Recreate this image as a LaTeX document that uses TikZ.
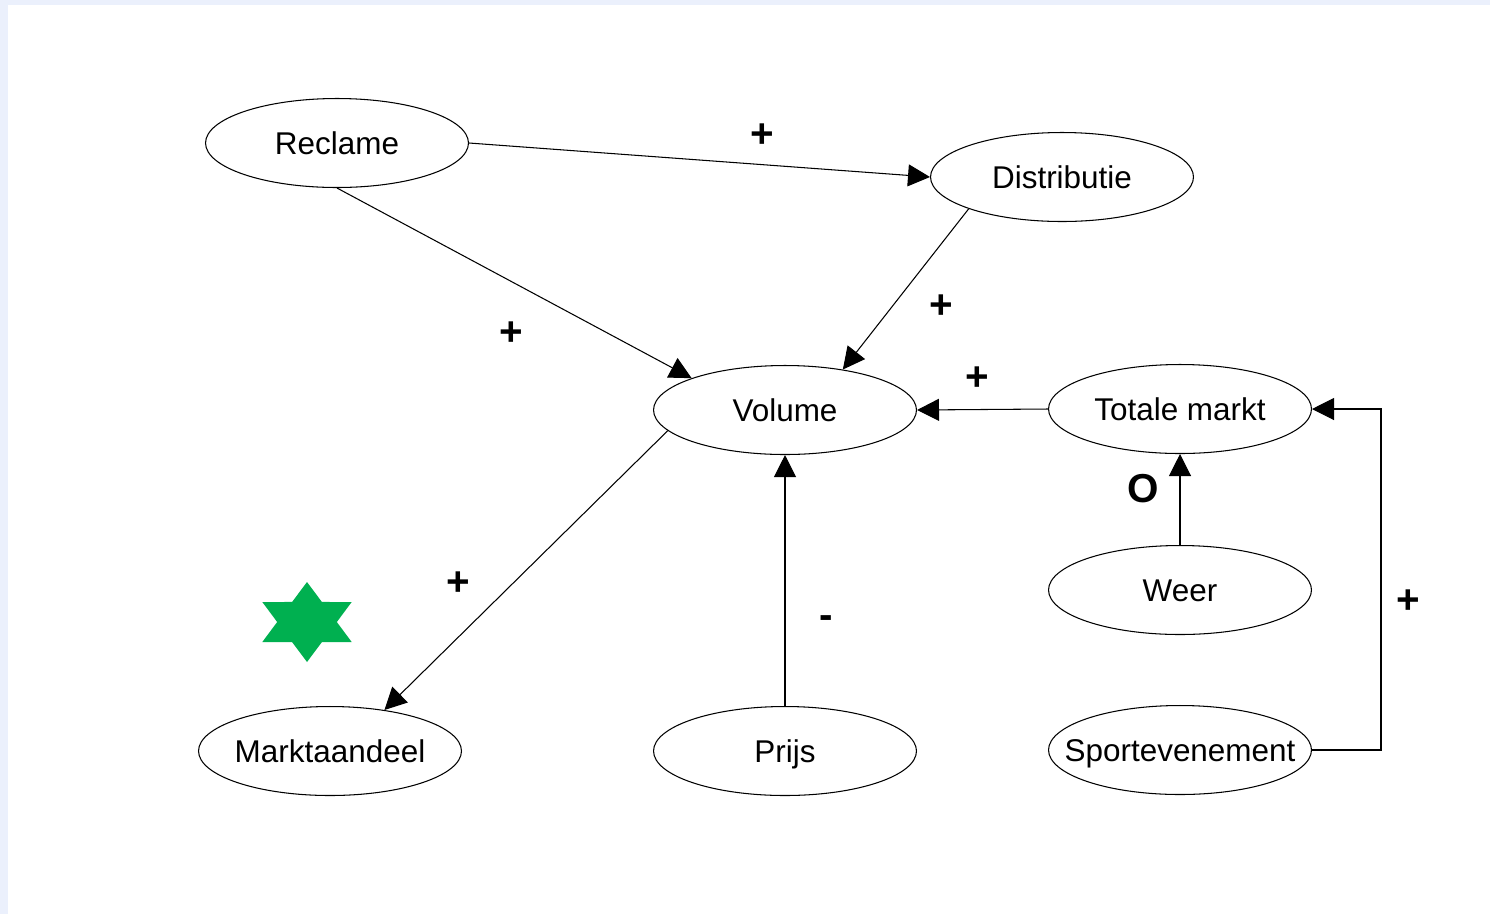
\documentclass[tikz,border=0pt]{standalone}
\usepackage{fontspec}
\setmainfont{Liberation Sans}
\usetikzlibrary{shapes.geometric,arrows.meta,positioning}
\definecolor{framebg}{HTML}{EBF0FC}
\definecolor{stargreen}{HTML}{00B050}
\tikzset{var node/.style={ellipse,draw,line width=0.6pt,inner sep=0pt,minimum width=5.26cm,minimum height=1.78cm,
                          text height=12.8pt,text depth=0pt,font=\fontsize{17.9}{21}\selectfont},
         sign label/.style={inner sep=0pt,font=\fontsize{23}{27}\selectfont\bfseries},
         link/.style={->,line width=0.6pt},
}
\newcommand{\vtxt}[1]{\makebox[0pt]{#1}}

\begin{document}
\begin{tikzpicture}[x=0.02cm,y=-0.02cm,
>={Triangle[length=4.4mm,width=4.4mm]}]
% background frame
\fill[framebg] (0,0) rectangle (1490,914);
\fill[white] (8,5) rectangle (1490,914);
\useasboundingbox (0,0) rectangle (1490,914);

\node[var node] (reclame) at (337,143) {\vtxt{Reclame}};
\node[var node] (distributie) at (1062,177) {\vtxt{Distributie}};
\node[var node] (volume) at (785,410) {\vtxt{Volume}};
\node[var node] (totale) at (1180,409) {\vtxt{Totale markt}};
\node[var node] (weer) at (1180,590) {\vtxt{Weer}};
\node[var node] (marktaandeel) at (330,751) {\vtxt{Marktaandeel}};
\node[var node] (prijs) at (785,751) {\vtxt{Prijs}};
\node[var node] (sport) at (1180,750) {\vtxt{Sportevenement}};

% green star, a bit wider than a regular one
\begin{scope}[shift={(307,622)},xscale=1.29]
\node[star,star points=6,star point ratio=1.73,fill=stargreen,draw=none,inner sep=0pt,outer sep=0pt,
      minimum size=1.6cm,transform shape] (ster) at (0,0) {};
\end{scope}

\draw[link] (reclame.east) -- (distributie.west);
\draw[link] (reclame.south) -- (volume.north west);
\draw[link] (distributie.south west) -- (volume.35);
\draw[link] (totale.west) -- (volume.east);
\draw[link] (volume.190) -- (marktaandeel.37);
\draw[link] (prijs.north) -- (volume.south);
\draw[link] (weer.north) -- (totale.south);
\draw[link] (sport.east) -- ++(69,0) |- (totale.east);

\node[sign label] (s1) at (762,136) {+};
\node[sign label] (s2) at (511,334) {+};
\node[sign label] (s3) at (941,307) {+};
\node[sign label] (s4) at (977,379) {+};
\node[sign label] (s5) at (458,584) {+};
\node[sign label] (s6) at (1408,602) {+};
\node[sign label] (s7) at (826,622) {-};
\node[sign label] (s8) at (1143,489) {O};

\end{tikzpicture}
\end{document}
